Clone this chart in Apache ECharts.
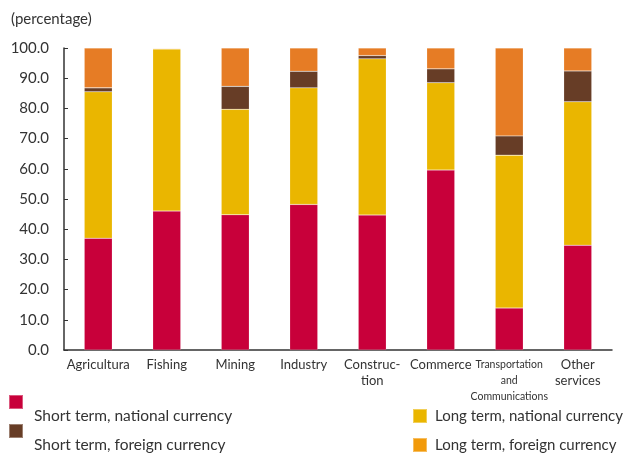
<!DOCTYPE html>
<html>
<head>
<meta charset="utf-8">
<script src="https://cdn.jsdelivr.net/npm/echarts@6/dist/echarts.min.js"></script>
<style>
  html, body { margin: 0; padding: 0; background: #fff; }
  #main { width: 627px; height: 456px; }
</style>
</head>
<body>
<div id="main"></div>
<script>
// sectores
var categories = ['Agricultura', 'Fishing', 'Mining', 'Industry', 'Construc-\ntion', 'Commerce', 'Transportation\nand\nCommunications', 'Other\nservices'];
var shortNational = [37.0, 46.0, 44.8, 48.2, 44.7, 59.6, 13.9, 34.7];
var longNational = [48.5, 53.7, 34.9, 38.6, 51.7, 28.9, 50.6, 47.5];
var shortForeign = [1.3, 0.1, 7.6, 5.5, 1.1, 4.6, 6.4, 10.2];
var longForeign = [13.2, 0.2, 12.7, 7.7, 2.5, 6.9, 29.1, 7.6];
var yTicks = [0, 10, 20, 30, 40, 50, 60, 70, 80, 90, 100];

var font = 'Lato';
var myChart = echarts.init(document.getElementById('main'));

function bar(name, data, color) {
    return {
        name: name,
        type: 'bar',
        stack: 'total',
        barWidth: 28,
        data: data,
        itemStyle: {
            color: color,
            borderColor: 'rgba(255,255,255,0.35)',
            borderWidth: 0.5
        }
    };
}

// leyenda: un componente por elemento
function leftLegend(name, top) {
    return {
        left: 8,
        top: top,
        padding: 0,
        icon: 'rect',
        itemWidth: 14,
        itemHeight: 14,
        data: [name],
        formatter: function (n) { return '\n' + n; },
        textStyle: { fontFamily: font, fontSize: 15.5, lineHeight: 28, color: '#333', padding: [0, 0, 0, 6] }
    };
}
function rightLegend(name, top, color) {
    var item = color ? { name: name, itemStyle: { color: color } } : name;
    return {
        left: 412,
        top: top,
        padding: 0,
        icon: 'rect',
        itemWidth: 14,
        itemHeight: 14,
        data: [item],
        textStyle: { fontFamily: font, fontSize: 15, lineHeight: 20, color: '#333', padding: [0, 0, 0, 3] }
    };
}

option = {
    animation: false,
    textStyle: { fontFamily: font },
    title: {
        text: '(percentage)',
        left: 6,
        top: 7,
        textStyle: { fontFamily: font, fontSize: 15, fontWeight: 'normal', color: '#333' }
    },
    grid: { left: 64, right: 15, top: 48, bottom: 106 },
    xAxis: {
        type: 'category',
        data: categories,
        axisLine: { lineStyle: { color: '#333', width: 1.5 } },
        axisTick: { inside: true, length: 4, lineStyle: { color: '#333' } },
        axisLabel: {
            color: '#333',
            fontFamily: font,
            fontSize: 13,
            lineHeight: 16,
            margin: 7,
            interval: 0,
            formatter: function (v) {
                if (v.indexOf('Transportation') === 0) {
                    return '{s|' + v.split('\n').join('}\n{s|') + '}';
                }
                return v;
            },
            rich: {
                s: { fontSize: 10.5, lineHeight: 16, fontFamily: font, color: '#333' }
            }
        }
    },
    yAxis: {
        type: 'value',
        min: 0,
        max: 100,
        interval: 10,
        splitLine: { show: false },
        axisLine: { show: true, lineStyle: { color: '#333', width: 1.5 } },
        axisTick: { show: true, inside: true, length: 4, lineStyle: { color: '#333' } },
        axisLabel: {
            color: '#333',
            fontFamily: font,
            fontSize: 15,
            margin: 15,
            formatter: function (v) { return yTicks.indexOf(v) >= 0 ? v.toFixed(1) : ''; }
        }
    },
    legend: [
        leftLegend('Short term, national currency', 374),
        leftLegend('Short term, foreign currency', 403),
        rightLegend('Long term, national currency', 406),
        rightLegend('Long term, foreign currency', 435, '#F29A0A')
    ],
    series: [
        bar('Short term, national currency', shortNational, '#C8003A'),
        bar('Long term, national currency', longNational, '#EAB600'),
        bar('Short term, foreign currency', shortForeign, '#673D26'),
        bar('Long term, foreign currency', longForeign, '#E67C25')
    ]
};
myChart.setOption(option);
</script>
</body>
</html>
